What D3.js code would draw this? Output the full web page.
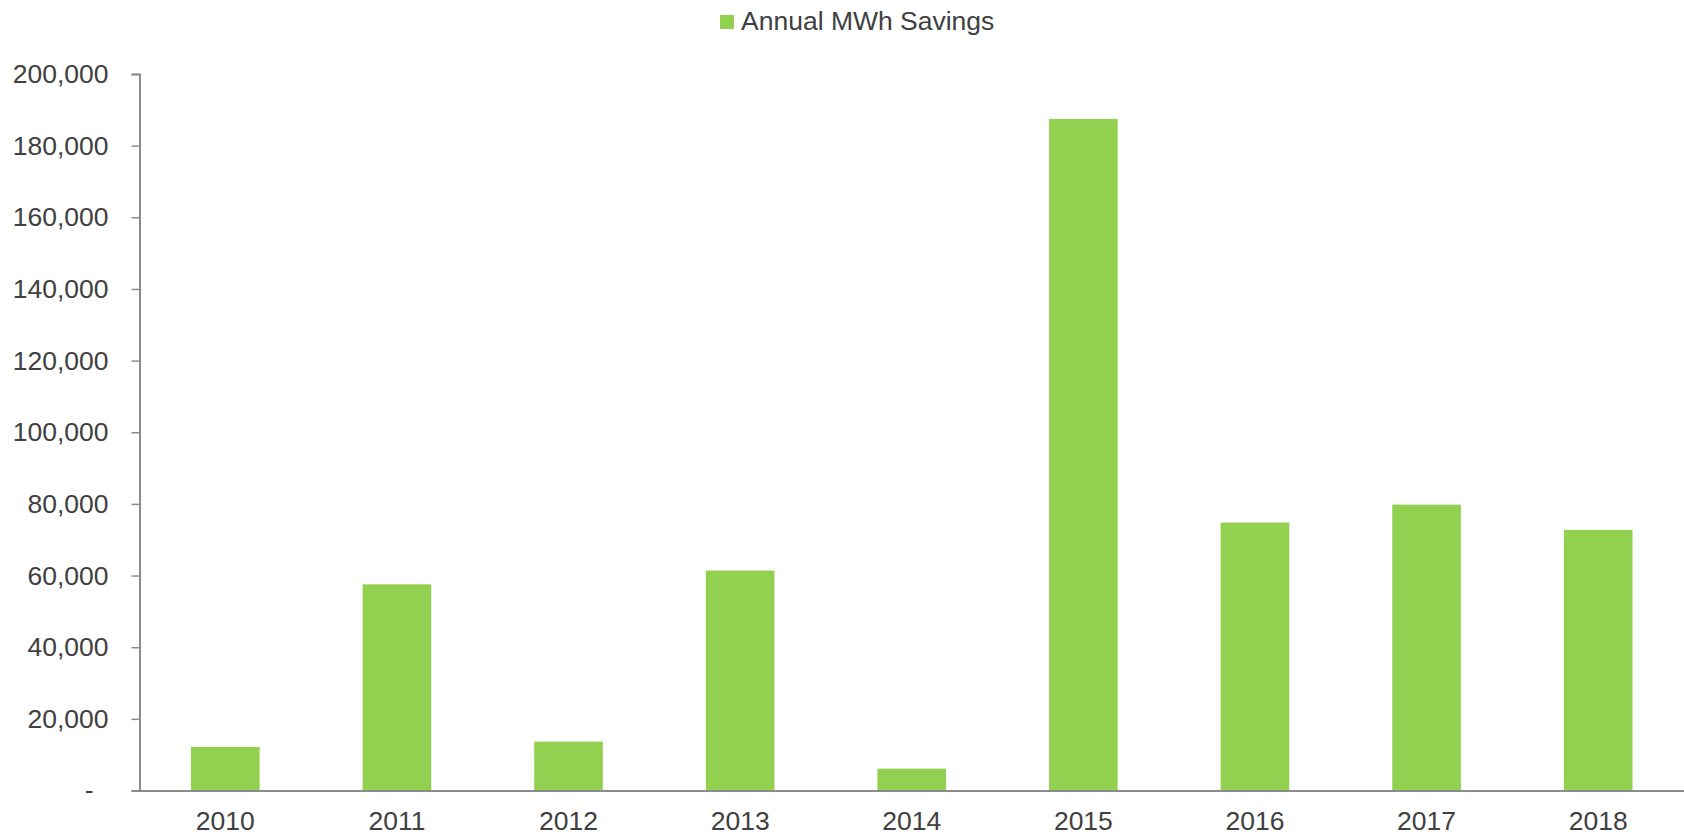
<!DOCTYPE html>
<html>
<head>
<meta charset="utf-8">
<script src="https://cdn.jsdelivr.net/npm/d3@7"></script>
<style>
  html, body { margin: 0; padding: 0; background: #fff; }
  svg { display: block; font-family: "Liberation Sans", Arial, sans-serif; }
</style>
</head>
<body>
<div id="chart"></div>
<script>
const years = ["2010", "2011", "2012", "2013", "2014", "2015", "2016", "2017", "2018"];
const savings = [12150, 57550, 13650, 61400, 6100, 187450, 74800, 79800, 72750];
const yTicks = [0, 20000, 40000, 60000, 80000, 100000, 120000, 140000, 160000, 180000, 200000];
const seriesName = "Annual MWh Savings";

const w = 1684, h = 838;
const barColor = "#92d050";
const axisColor = "#8c8c8c";
const textColor = "#404040";
const fontSize = "26.5px";

const margin = { left: 139.5, right: 0, top: 74, bottom: 47.5 };

const svg = d3.select("#chart")
  .append("svg")
  .attr("width", w)
  .attr("height", h);

const xScale = d3.scaleBand()
  .domain(years)
  .range([margin.left, w - margin.right])
  .paddingInner(0.6)
  .paddingOuter(0.3);

const yScale = d3.scaleLinear()
  .domain([0, 200000])
  .range([h - margin.bottom, margin.top]);

// bars
svg.append("g")
  .selectAll("rect")
  .data(years)
  .join("rect")
  .attr("x", (d) => xScale(d))
  .attr("width", xScale.bandwidth())
  .attr("y", (d, i) => yScale(savings[i]))
  .attr("height", (d, i) => yScale(0) - yScale(savings[i]))
  .attr("fill", barColor);

// y axis
const fmt = d3.format(",");
const yAxis = svg.append("g")
  .attr("transform", `translate(${margin.left},0)`)
  .call(d3.axisLeft(yScale)
    .tickValues(yTicks)
    .tickSize(8)
    .tickPadding(23)
    .tickFormat((d) => (d === 0 ? "-" : fmt(d))));
yAxis.select(".domain").attr("stroke", axisColor).attr("stroke-width", 2);
yAxis.selectAll(".tick line").attr("stroke", axisColor).attr("stroke-width", 1.5);
yAxis.selectAll(".tick text")
  .attr("fill", textColor)
  .attr("font-size", fontSize)
  .attr("font-family", "Liberation Sans, Arial, sans-serif");
// zero shown as accounting dash, indented
yAxis.selectAll(".tick text").filter((d) => d === 0).attr("dx", "-15px");

// x axis
const xAxis = svg.append("g")
  .attr("transform", `translate(0,${yScale(0)})`)
  .call(d3.axisBottom(xScale).tickSize(0).tickPadding(21));
xAxis.select(".domain").attr("stroke", axisColor).attr("stroke-width", 2);
xAxis.selectAll(".tick text")
  .attr("fill", textColor)
  .attr("font-size", fontSize)
  .attr("font-family", "Liberation Sans, Arial, sans-serif");

// legend
const legend = svg.append("g").attr("transform", "translate(720,15)");
legend.append("rect")
  .attr("width", 14)
  .attr("height", 14)
  .attr("fill", barColor);
legend.append("text")
  .attr("x", 21)
  .attr("y", 14.5)
  .attr("fill", textColor)
  .attr("font-size", fontSize)
  .text(seriesName);
</script>
</body>
</html>
